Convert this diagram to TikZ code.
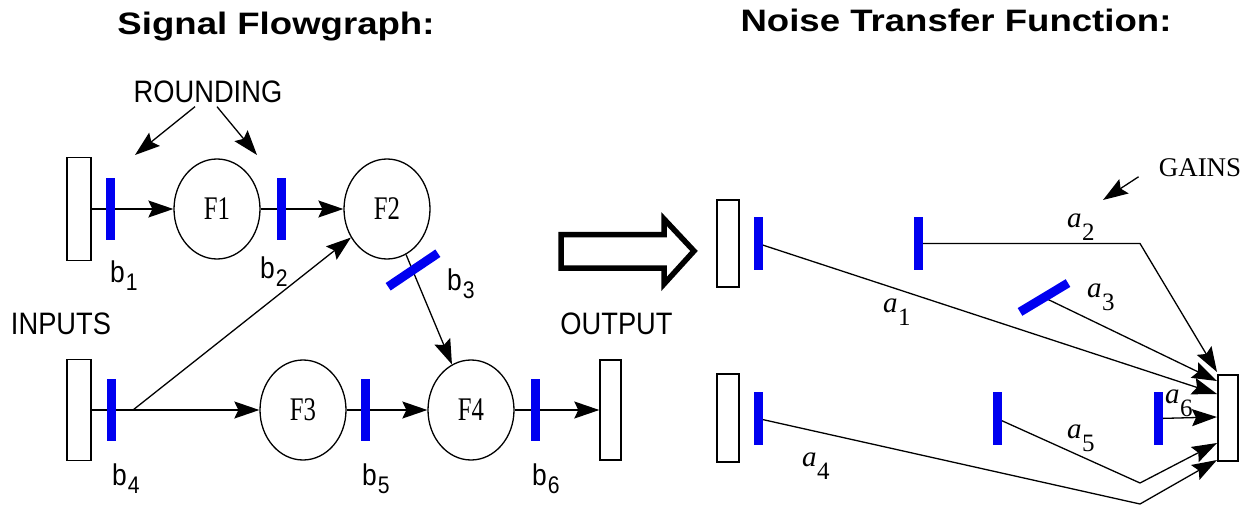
\documentclass[tikz,border=0pt]{standalone}
\usepackage{fontspec}
\setmainfont{Liberation Serif}
\newfontfamily\titlefont[FakeStretch=1.18]{Liberation Sans}
\newfontfamily\capsfont[FakeStretch=0.88]{Liberation Sans}
\newfontfamily\fnfont[FakeStretch=0.75]{Liberation Serif}
\usetikzlibrary{arrows.meta,calc,shapes.geometric}
\definecolor{barblue}{HTML}{0000F0}
\pgfdeclarelayer{bg}
\pgfsetlayers{bg,main}
\newcommand{\blbl}[2]{#1\kern1pt\raisebox{-8pt}{\fontsize{24}{24}\selectfont #2}}
\newcommand{\alb}[1]{{\itshape a}\kern0.5pt\raisebox{-13pt}{\fontsize{25}{25}\selectfont #1}}

\begin{document}
\begin{tikzpicture}[x=1pt,y=-1pt,>={Stealth[length=25pt,width=17pt,inset=4pt]},
    box/.style args={#1x#2}{draw,line width=1.4pt,inner sep=0pt,minimum width=#1pt,minimum height=#2pt},
    fn/.style={ellipse,draw,line width=1.3pt,inner sep=0pt,minimum width=86pt,minimum height=100pt,font=\fnfont\fontsize{33}{33}\selectfont},
    bar/.style={fill=barblue,inner sep=0pt,minimum width=9pt,minimum height=#1},
    wire/.style={line width=1.3pt},
    ttl/.style={anchor=base,inner sep=0pt,font=\titlefont\bfseries\fontsize{31}{31}\selectfont},
    caps/.style={inner sep=0pt,font=\capsfont\fontsize{31}{31}\selectfont},
    lbl/.style={anchor=base west,inner sep=0pt,font=\fontsize{29}{29}\selectfont}]
  \useasboundingbox (0,0) rectangle (1250,508);

  \node[ttl] (ttl1) at (276,35) {Signal Flowgraph:};
  \node[ttl] (ttl2) at (956,31.5) {Noise Transfer Function:};

  % signal flowgraph
  \node[caps] (rounding) at (208,91.5) {ROUNDING};
  \node[caps] (inputs) at (61,324) {INPUTS};
  \node[caps] (output) at (616.5,324) {OUTPUT};
  \node[box=24x103] (in1) at (79,209) {};
  \node[box=24x101] (in2) at (79,410) {};
  \node[box=21x100] (out1) at (610.5,410) {};
  \node[fn] (f1) at (217,209) {F1};
  \node[fn] (f2) at (387,209) {F2};
  \node[fn] (f3) at (303,410) {F3};
  \node[fn] (f4) at (471,410) {F4};
  \coordinate (j) at (133,410);
  \coordinate (r1) at (135,155);
  \coordinate (r2) at (257,155);

  \foreach \n/\x/\y in {b1/110/209,b2/281/209,b4/111/410,b5/365/410,b6/535/410}
    \node[bar=62pt] (\n) at (\x,\y) {};
  \node[bar=60pt,rotate=-56] (b3) at (413,270) {};

  \foreach \n/\x/\y in {1/110/282,2/260/278,3/447/290,4/112/485,5/362/485,6/532/485}
    \node[lbl,font=\capsfont\fontsize{30}{30}\selectfont] (lb\n) at (\x,\y) {\blbl{b}{\n}};

  \begin{pgfonlayer}{bg}
    \draw[wire,->] (in1) -- (f1);
    \draw[wire,->] (f1) -- (f2);
    \draw[wire,->] (f2) -- (f4);
    \draw[wire,->] (in2) -- (f3);
    \draw[wire,->] (j) -- (f2);
    \draw[wire,->] (f3) -- (f4);
    \draw[wire,->] (f4) -- (out1);
  \end{pgfonlayer}
  \draw[wire,->] ($(rounding.south)+(-13,4)$) -- (r1);
  \draw[wire,->] ($(rounding.south)+(9,4)$) -- (r2);

  \draw[line width=5.5pt,miter limit=10] (561,234.5) -- (664,234.5) -- (664,219) -- (694,251)
    -- (664,284) -- (664,268) -- (561,268) -- cycle;

  % noise transfer function
  \node[font=\fontsize{27}{27}\selectfont,inner sep=0pt] (gains) at (1200,167.5) {GAINS};
  \coordinate (g) at (1103,200);
  \draw[wire,->] ($(gains.south west)+(-20,0)$) -- (g);

  \node[box=22x87] (in3) at (728,243.5) {};
  \node[box=22x88] (in4) at (728,418) {};
  \node[box=20x86] (out2) at (1228,418) {};

  \foreach \n/\x/\y in {a1/758/243.5,a2/918/243.5,a4/758/418.5,a5/997/418.5,a6/1158/418.5}
    \node[bar=53pt] (\n) at (\x,\y) {};
  \node[bar=56pt,rotate=-59] (a3) at (1044,297.5) {};

  \foreach \n/\x/\y in {1/883/312,2/1067/227,3/1087/297,4/802/466,5/1067/438,6/1165/403}
    \node[lbl] (la\n) at (\x,\y) {\alb{\n}};

  \coordinate (t1) at (1217,394);
  \coordinate (t2) at (1217,372);
  \coordinate (t3) at (1217,381);
  \coordinate (t4) at (1217,460);
  \coordinate (t5) at (1217,443);
  \coordinate (t6) at (1217,417);
  \coordinate (k2) at (1140,243.5);
  \coordinate (k4) at (1140,504);
  \coordinate (k5) at (1140,483);

  \begin{pgfonlayer}{bg}
    \draw[wire,->] (a1.center) -- (t1);
    \draw[wire,->] (a2.center) -- (k2) -- (t2);
    \draw[wire,->] (a3.center) -- (t3);
    \draw[wire,->] (a4.center) -- (k4) -- (t4);
    \draw[wire,->] (a5.center) -- (k5) -- (t5);
    \draw[wire,->] (a6.center) -- (t6);
  \end{pgfonlayer}
\end{tikzpicture}
\end{document}
